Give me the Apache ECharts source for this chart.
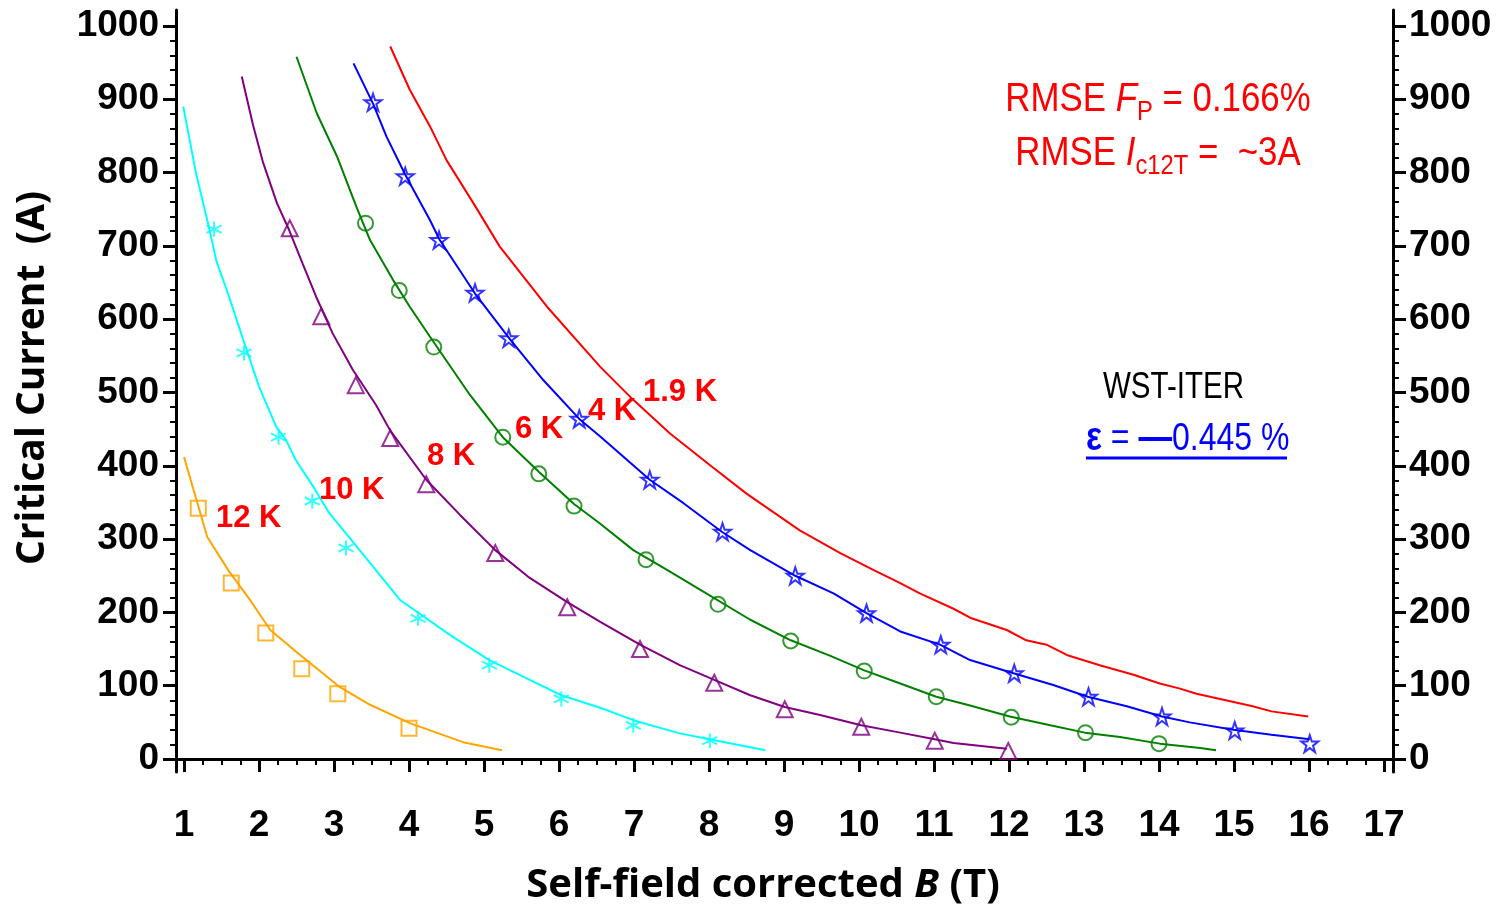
<!DOCTYPE html>
<html>
<head>
<meta charset="utf-8">
<script src="https://cdn.jsdelivr.net/npm/echarts@6/dist/echarts.min.js"></script>
<style>
html, body { margin: 0; padding: 0; background: #fff; }
#chart { width: 1499px; height: 910px; }
</style>
</head>
<body>
<div id="chart"></div>
<script>
// tick labels
var xTicks = [1, 2, 3, 4, 5, 6, 7, 8, 9, 10, 11, 12, 13, 14, 15, 16, 17];
var yTicks = [0, 100, 200, 300, 400, 500, 600, 700, 800, 900, 1000];

// 12 K
var t12Fit = [[1.0, 412], [1.31, 303], [1.6, 256], [1.88, 217], [2.15, 176], [2.5, 146], [2.68, 131], [3.08, 98], [3.48, 74], [4.01, 49], [4.72, 23], [5.24, 12]];
var t12Meas = [[1.19, 342], [1.63, 240], [2.09, 172], [2.57, 123], [3.05, 89], [4.0, 42]];
// 10 K
var t10Fit = [[0.99, 890], [1.16, 799], [1.34, 722], [1.43, 680], [1.6, 631], [1.76, 581], [2.0, 508], [2.23, 453], [2.36, 435], [2.49, 408], [2.72, 372], [2.94, 335], [3.23, 299], [3.88, 217], [4.55, 169], [5.07, 135], [5.61, 108], [6.03, 87], [6.55, 70], [6.99, 53], [7.61, 35], [8.01, 27], [8.75, 12]];
var t10Meas = [[1.4, 723], [1.8, 554], [2.26, 439], [2.71, 352], [3.16, 288], [4.12, 192], [5.07, 128], [6.03, 82], [6.99, 46], [8.01, 25]];
// 8 K
var t8Fit = [[1.77, 931], [1.92, 865], [2.05, 815], [2.24, 758], [2.4, 722], [2.58, 676], [2.76, 631], [2.98, 581], [3.25, 531], [3.56, 483], [3.75, 448], [4.23, 381], [4.68, 333], [5.15, 285], [5.61, 247], [6.11, 214], [6.55, 187], [7.08, 156], [7.61, 128], [8.07, 108], [8.55, 87], [9.01, 71], [9.48, 60], [10.03, 46], [10.55, 36], [11.01, 27], [11.26, 22], [11.97, 14]];
var t8Meas = [[2.41, 724], [2.83, 604], [3.29, 510], [3.75, 438], [4.23, 375], [5.15, 281], [6.11, 207], [7.08, 150], [8.07, 104], [9.01, 68], [10.03, 44], [11.01, 25], [11.99, 11]];
// 6 K
var t6Fit = [[2.5, 958], [2.77, 881], [3.04, 822], [3.3, 753], [3.48, 708], [3.79, 653], [4.01, 617], [4.28, 576], [4.81, 497], [5.25, 439], [5.73, 392], [6.2, 348], [6.55, 321], [6.99, 285], [7.44, 258], [7.88, 231], [8.55, 190], [9.09, 162], [9.61, 141], [10.07, 121], [10.55, 103], [11.03, 85], [11.48, 73], [12.01, 58], [12.55, 46], [13.01, 36], [13.48, 30], [14.01, 21], [14.55, 15], [14.76, 12]];
var t6Meas = [[3.42, 731], [3.87, 639], [4.33, 562], [5.25, 439], [5.73, 389], [6.2, 345], [7.16, 272], [8.12, 211], [9.09, 161], [10.07, 120], [11.03, 85], [12.03, 57], [13.02, 36], [14.0, 21]];
// 4 K
var t4Fit = [[3.26, 949], [3.52, 894], [3.7, 849], [3.95, 797], [4.28, 735], [4.41, 708], [4.88, 635], [5.35, 572], [5.79, 517], [6.27, 464], [6.55, 440], [7.21, 381], [7.66, 349], [8.17, 310], [8.55, 285], [9.15, 250], [9.66, 226], [10.1, 199], [10.55, 174], [11.08, 156], [11.48, 135], [12.06, 117], [12.59, 101], [13.05, 85], [13.57, 72], [14.04, 58], [14.41, 50], [14.99, 40], [15.5, 33], [16.01, 27]];
var t4Meas = [[3.52, 896], [3.95, 795], [4.4, 708], [4.88, 636], [5.33, 574], [6.27, 464], [7.21, 381], [8.18, 310], [9.15, 250], [10.1, 199], [11.09, 156], [12.07, 117], [13.06, 85], [14.04, 58], [15.01, 39], [16.01, 21]];
// 1.9 K
var t19Fit = [[3.75, 972], [4.01, 913], [4.28, 863], [4.5, 817], [4.86, 758], [5.21, 699], [5.84, 617], [6.55, 535], [6.99, 490], [7.48, 444], [8.01, 401], [8.5, 362], [9.21, 312], [9.75, 281], [10.19, 258], [10.55, 240], [10.81, 226], [11.26, 205], [11.5, 192], [11.97, 176], [12.23, 162], [12.5, 156], [12.77, 142], [13.21, 128], [13.66, 115], [14.01, 103], [14.28, 96], [14.5, 89], [15.25, 72], [15.5, 65], [15.99, 58]];

// minor ticks
var xMinor = [];
for (var i = 1; i < 17; i++) { xMinor.push(i + 0.25, i + 0.5, i + 0.75); }
var yMinor = [];
for (var v = 20; v < 1000; v += 20) { if (v % 100 !== 0) yMinor.push(v); }

var SANS = "'Liberation Sans', Arial, sans-serif";
var TITLE = "'Open Sans', Lato, sans-serif";

var star = 'path://M50,0 L61.8,34.5 L97.6,34.5 L68.5,55.9 L79.4,90.5 L50,69.1 L20.6,90.5 L31.5,55.9 L2.4,34.5 L38.2,34.5 Z';
var asterisk = 'path://M50,0 L50,100 M6.7,25 L93.3,75 M6.7,75 L93.3,25';

function fitLine(name, data, color) {
    return {
        name: name, type: 'line', data: data, showSymbol: false, smooth: false,
        lineStyle: { color: color, width: 2 }, z: 2
    };
}
function measured(name, data, color, symbol, size) {
    return {
        name: name, type: 'scatter', data: data, symbol: symbol, symbolSize: size,
        itemStyle: { color: 'rgba(0,0,0,0)', borderColor: color, borderWidth: 2 }, z: 3
    };
}

var tickLabel = {
    fontFamily: SANS, fontWeight: 'bold', fontSize: 37, color: '#000',
    formatter: function (val) { return String(val); }
};

var Y_MIN = -17.7, Y_MAX = 1021.8;
var X_MIN = 0.893, X_MAX = 17.12;

var chart = echarts.init(document.getElementById('chart'));
var option = {
    animation: false,
    backgroundColor: '#fff',
    grid: { left: 176, right: 106, top: 10, bottom: 138, outerBoundsMode: 'none', containLabel: false },
    xAxis: [
        {
            type: 'value', min: X_MIN, max: X_MAX, position: 'bottom',
            axisLine: { show: true, lineStyle: { color: '#000', width: 3 } },
            axisTick: { show: true, customValues: xTicks, length: 13, lineStyle: { color: '#000', width: 3 } },
            axisLabel: Object.assign({ customValues: xTicks, margin: 35 }, tickLabel),
            splitLine: { show: false }
        },
        {
            type: 'value', min: X_MIN, max: X_MAX, position: 'bottom',
            axisLine: { show: false },
            axisTick: { show: true, customValues: xMinor, length: 6, lineStyle: { color: '#000', width: 2 } },
            axisLabel: { show: false }, splitLine: { show: false }
        },
        {
            type: 'value', min: X_MIN, max: X_MAX, position: 'top',
            axisLine: { show: true, lineStyle: { color: '#000', width: 3 } },
            axisTick: { show: false }, axisLabel: { show: false }, splitLine: { show: false }
        }
    ],
    yAxis: [
        {
            type: 'value', min: Y_MIN, max: Y_MAX, position: 'left',
            axisLine: { show: true, lineStyle: { color: '#000', width: 3 } },
            axisTick: { show: true, customValues: yTicks, length: 13, lineStyle: { color: '#000', width: 3 } },
            axisLabel: Object.assign({ customValues: yTicks, margin: 17 }, tickLabel),
            splitLine: { show: false }
        },
        {
            type: 'value', min: Y_MIN, max: Y_MAX, position: 'left',
            axisLine: { show: false },
            axisTick: { show: true, customValues: yMinor, length: 6, lineStyle: { color: '#000', width: 2 } },
            axisLabel: { show: false }, splitLine: { show: false }
        },
        {
            type: 'value', min: Y_MIN, max: Y_MAX, position: 'right',
            axisLine: { show: true, lineStyle: { color: '#000', width: 3 } },
            axisTick: { show: true, customValues: yTicks, length: 13, lineStyle: { color: '#000', width: 3 } },
            axisLabel: Object.assign({ customValues: yTicks, margin: 16 }, tickLabel),
            splitLine: { show: false }
        },
        {
            type: 'value', min: Y_MIN, max: Y_MAX, position: 'right',
            axisLine: { show: false },
            axisTick: { show: true, customValues: yMinor, length: 6, lineStyle: { color: '#000', width: 2 } },
            axisLabel: { show: false }, splitLine: { show: false }
        }
    ],
    series: [
        fitLine('12 K fit', t12Fit, '#FFA500'),
        fitLine('10 K fit', t10Fit, '#00FFFF'),
        fitLine('8 K fit', t8Fit, '#800080'),
        fitLine('6 K fit', t6Fit, '#008000'),
        fitLine('4 K fit', t4Fit, '#0000FF'),
        fitLine('1.9 K fit', t19Fit, '#FF0000'),
        measured('12 K', t12Meas, '#FFA500', 'rect', 15),
        measured('10 K', t10Meas, '#00FFFF', asterisk, 15),
        measured('8 K', t8Meas, '#800080', 'triangle', 16),
        measured('6 K', t6Meas, '#008000', 'circle', 15),
        measured('4 K', t4Meas, '#0000FF', star, 17)
    ],
    graphic: [
        // temperature labels
        { type: 'text', x: 216, y: 518, style: { text: '12 K', fontFamily: SANS, fontWeight: 'bold', fontSize: 31, fill: '#FF0000', verticalAlign: 'middle' } },
        { type: 'text', x: 319, y: 490, style: { text: '10 K', fontFamily: SANS, fontWeight: 'bold', fontSize: 31, fill: '#FF0000', verticalAlign: 'middle' } },
        { type: 'text', x: 427, y: 456, style: { text: '8 K', fontFamily: SANS, fontWeight: 'bold', fontSize: 31, fill: '#FF0000', verticalAlign: 'middle' } },
        { type: 'text', x: 515, y: 429, style: { text: '6 K', fontFamily: SANS, fontWeight: 'bold', fontSize: 31, fill: '#FF0000', verticalAlign: 'middle' } },
        { type: 'text', x: 588, y: 411, style: { text: '4 K', fontFamily: SANS, fontWeight: 'bold', fontSize: 31, fill: '#FF0000', verticalAlign: 'middle' } },
        { type: 'text', x: 643, y: 392, style: { text: '1.9 K', fontFamily: SANS, fontWeight: 'bold', fontSize: 31, fill: '#FF0000', verticalAlign: 'middle' } },
        // RMSE notes
        {
            type: 'text', x: 1158, y: 100, scaleX: 0.85,
            style: {
                text: 'RMSE {i|F}{s|P} = 0.166%', align: 'center', verticalAlign: 'middle',
                fontFamily: SANS, fontSize: 41, fill: '#FF0000',
                rich: {
                    i: { fontFamily: SANS, fontSize: 41, fontStyle: 'italic', fill: '#FF0000' },
                    s: { fontFamily: SANS, fontSize: 28, fill: '#FF0000', padding: [24, 0, 0, 0] }
                }
            }
        },
        {
            type: 'text', x: 1158, y: 154, scaleX: 0.85,
            style: {
                text: 'RMSE {i|I}{s|c12T} =  ~3A', align: 'center', verticalAlign: 'middle',
                fontFamily: SANS, fontSize: 41, fill: '#FF0000',
                rich: {
                    i: { fontFamily: SANS, fontSize: 41, fontStyle: 'italic', fill: '#FF0000' },
                    s: { fontFamily: SANS, fontSize: 28, fill: '#FF0000', padding: [24, 0, 0, 0] }
                }
            }
        },
        // conductor / strain
        { type: 'text', x: 1103, y: 388, scaleX: 0.82, style: { text: 'WST-ITER', fontFamily: SANS, fontSize: 36, fill: '#000', verticalAlign: 'middle' } },
        {
            type: 'text', x: 1086, y: 439, scaleX: 0.82,
            style: {
                text: '{b|ε} = {b|—}0.445 %', verticalAlign: 'middle',
                fontFamily: SANS, fontSize: 39, fill: '#0000FF',
                rich: { b: { fontFamily: SANS, fontSize: 41, fontWeight: 'bold', fill: '#0000FF' } }
            }
        },
        { type: 'line', shape: { x1: 1086, y1: 458, x2: 1287, y2: 458 }, style: { stroke: '#0000FF', lineWidth: 3 } },
        // axis titles
        {
            type: 'text', x: 763, y: 886,
            style: {
                text: 'Self-field corrected {i|B} (T)', align: 'center', verticalAlign: 'middle',
                fontFamily: TITLE, fontWeight: 'bold', fontSize: 40, fill: '#000',
                rich: { i: { fontFamily: TITLE, fontWeight: 'bold', fontStyle: 'italic', fontSize: 40, fill: '#000' } }
            }
        },
        {
            type: 'text', x: 33, y: 378, rotation: Math.PI / 2,
            style: {
                text: 'Critical Current  (A)', align: 'center', verticalAlign: 'middle',
                fontFamily: TITLE, fontWeight: 'bold', fontSize: 39, fill: '#000'
            }
        }
    ]
};
chart.setOption(option);
</script>
</body>
</html>
